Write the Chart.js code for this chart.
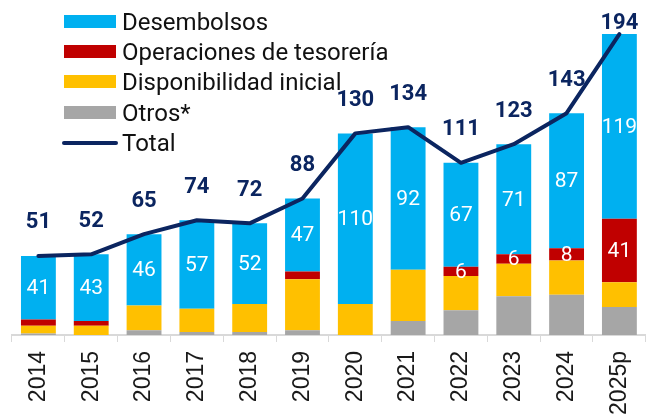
<!DOCTYPE html>
<html>
<head>
<meta charset="utf-8">
<script src="https://cdn.jsdelivr.net/npm/chart.js@4.4.1/dist/chart.umd.min.js"></script>
<style>
  html, body { margin: 0; padding: 0; overflow: hidden; background: #fff; width: 649px; height: 417px; }
  #wrap { position: relative; width: 656px; height: 417px; }
  #legend { position: absolute; left: 0; top: 0; font-family: Roboto, sans-serif; font-size: 24px; color: #111; }
  .row { position: absolute; left: 64px; height: 30px; white-space: nowrap; }
  .sw { position: absolute; left: 0; width: 52px; height: 13px; }
  .ln { position: absolute; left: -2px; width: 56px; height: 4px; border-radius: 2px; }
  .tx { position: absolute; left: 58px; line-height: 30px; top: 0; }
</style>
</head>
<body>
<div id="wrap">
  <canvas id="chart" width="656" height="417"></canvas>
  <div id="legend"></div>
</div>
<script>
// categories and values
var years = ['2014', '2015', '2016', '2017', '2018', '2019', '2020', '2021', '2022', '2023', '2024', '2025p'];
var desembolsos = [41, 43, 46, 57, 52, 47, 110, 92, 67, 71, 87, 119];
var operaciones = [4, 3, 0, 0, 0, 5, 0, 0, 6, 6, 8, 41];
var disponibilidad = [5, 6, 16, 15, 18, 33, 20, 33, 22, 21, 22, 16];
var otros = [1, 0, 3, 2, 2, 3, 0, 9, 16, 25, 26, 18];
var total = [51, 52, 65, 74, 72, 88, 130, 134, 111, 123, 143, 194];

var navy = '#0b2560';

// html legend, same order as the picture
var legendItems = [
  { label: 'Desembolsos', color: '#00b0f0' },
  { label: 'Operaciones de tesorería', color: '#c00000' },
  { label: 'Disponibilidad inicial', color: '#ffc000' },
  { label: 'Otros*', color: '#a6a6a6' },
  { label: 'Total', color: navy, line: true }
];
var legendHtml = '';
legendItems.forEach(function(it, i) {
  var top = 7 + i * 30.2;
  legendHtml += '<div class="row" style="top:' + top + 'px">' +
    (it.line
      ? '<div class="ln" style="top:13px;background:' + it.color + '"></div>'
      : '<div class="sw" style="top:8px;background:' + it.color + '"></div>') +
    '<div class="tx">' + it.label + '</div></div>';
});
document.getElementById('legend').innerHTML = legendHtml;

// labels inside the bars and totals above the line
var labelPlugin = {
  id: 'labels',
  afterDatasetsDraw: function(chart) {
    var ctx = chart.ctx;
    ctx.save();
    ctx.textAlign = 'center';
    ctx.textBaseline = 'middle';

    ctx.fillStyle = '#fff';
    ctx.font = '21px Roboto';
    [3, 2].forEach(function(di) {
      var ds = chart.data.datasets[di];
      chart.getDatasetMeta(di).data.forEach(function(bar, i) {
        var v = ds.data[i];
        if (di === 2 && v < 6) return;
        ctx.fillText(v, bar.x, (bar.y + bar.base) / 2 + 1);
      });
    });

    ctx.fillStyle = navy;
    ctx.font = 'bold 22px Roboto';
    chart.getDatasetMeta(4).data.forEach(function(pt, i) {
      var y = Math.max(pt.y - 33, 23);
      ctx.fillText(total[i], pt.x, y);
    });
    ctx.restore();
  }
};

var ctx = document.getElementById('chart').getContext('2d');
var chart = new Chart(ctx, {
  type: 'bar',
  data: {
    labels: years,
    datasets: [
      { label: 'Otros*', data: otros, backgroundColor: '#a6a6a6', order: 1 },
      { label: 'Disponibilidad inicial', data: disponibilidad, backgroundColor: '#ffc000', order: 1 },
      { label: 'Operaciones de tesorería', data: operaciones, backgroundColor: '#c00000', order: 1 },
      { label: 'Desembolsos', data: desembolsos, backgroundColor: '#00b0f0', order: 1 },
      {
        type: 'line', label: 'Total', data: total, stack: 'total', order: 0,
        borderColor: navy, borderWidth: 4, pointRadius: 0, tension: 0,
        borderCapStyle: 'round', borderJoinStyle: 'round', fill: false
      }
    ]
  },
  options: {
    responsive: false,
    animation: false,
    layout: { padding: { left: 12, right: 0, top: 0, bottom: 0 } },
    datasets: { bar: { barPercentage: 0.66, categoryPercentage: 1 } },
    plugins: { legend: { display: false }, tooltip: { enabled: false } },
    scales: {
      x: {
        stacked: true,
        afterFit: function(scale) { scale.height = 82; },
        grid: { display: true, drawOnChartArea: false, drawTicks: true, tickLength: 7, color: '#d9d9d9', lineWidth: 1, offset: true },
        border: { display: true, color: '#d9d9d9', width: 2 },
        ticks: {
          autoSkip: false, minRotation: 90, maxRotation: 90, padding: 9,
          color: '#1a1a1a', font: { family: 'Liberation Sans', size: 23 }
        }
      },
      y: { stacked: true, display: false, min: 0, max: 216 }
    }
  },
  plugins: [labelPlugin]
});
</script>
</body>
</html>
